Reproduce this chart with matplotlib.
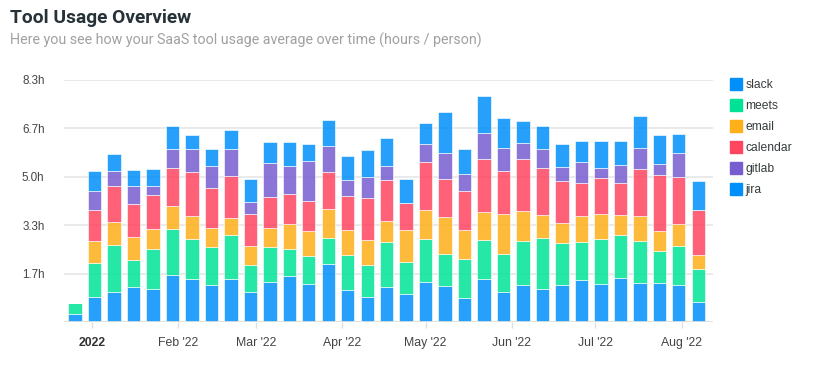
import matplotlib
matplotlib.use('Agg')
import matplotlib.pyplot as plt
import matplotlib.dates as mdates
from matplotlib.lines import Line2D
from datetime import date, timedelta

plt.rcParams['font.family'] = ['Liberation Sans', 'DejaVu Sans']

# Weekly buckets (Sundays), hours / person
weeks = [date(2021, 12, 26) + timedelta(days=7 * i) for i in range(33)]

slack = [0.26, 0.87, 1.02, 1.20, 1.13, 1.61, 1.47, 1.27, 1.47, 1.03, 1.37, 1.57, 1.32, 1.99,
         1.10, 0.86, 1.20, 0.96, 1.37, 1.24, 0.82, 1.48, 1.02, 1.26, 1.12, 1.26, 1.43, 1.29,
         1.51, 1.33, 1.34, 1.26, 0.70]
meets = [0.38, 1.16, 1.63, 0.93, 1.39, 1.59, 1.36, 1.31, 1.50, 0.93, 1.20, 0.93, 0.95, 0.90,
         1.20, 1.10, 1.55, 1.11, 1.48, 1.10, 1.33, 1.33, 1.31, 1.51, 1.75, 1.44, 1.32, 1.56,
         1.47, 1.45, 1.09, 1.35, 1.13]
email = [0, 0.76, 0.77, 0.77, 0.66, 0.79, 0.80, 0.64, 0.60, 0.66, 0.64, 0.86, 0.86, 1.00,
         0.86, 0.85, 0.70, 1.10, 0.98, 1.26, 1.02, 0.96, 1.36, 1.03, 0.79, 0.69, 0.89, 0.85,
         0.70, 0.85, 0.69, 0.76, 0.46]
calendar = [0, 1.05, 1.24, 1.14, 1.16, 1.28, 1.50, 1.37, 1.45, 1.10, 1.08, 1.03, 1.01, 1.27,
            1.17, 1.45, 1.43, 0.92, 1.65, 1.31, 1.32, 1.83, 1.48, 1.79, 1.63, 1.44, 1.13, 1.25,
            1.08, 1.61, 1.91, 1.60, 1.55]
gitlab = [0, 0.64, 0.52, 0.64, 0.34, 0.68, 0.82, 0.77, 0.90, 0.41, 1.18, 0.97, 1.37, 0.89,
          0.53, 0.71, 0.48, 0, 0.62, 0.88, 0.57, 0.87, 0.79, 0.54, 0.63, 0.50, 0.73, 0.32,
          0.62, 0.74, 0.38, 0.81, 0]
jira = [0, 0.69, 0.57, 0.53, 0.57, 0.77, 0.48, 0.57, 0.65, 0.77, 0.72, 0.80, 0.61, 0.89,
        0.82, 0.92, 0.95, 0.80, 0.72, 1.41, 0.86, 1.29, 1.03, 0.78, 0.80, 0.79, 0.70, 0.94,
        0.82, 1.09, 1.02, 0.68, 0.98]

series = [('slack', slack, '#008FFB'), ('meets', meets, '#00E396'), ('email', email, '#FEB019'),
          ('calendar', calendar, '#FF4560'), ('gitlab', gitlab, '#775DD0'), ('jira', jira, '#008FFB')]

y_ticks = [0, 1.66, 3.32, 4.98, 6.64, 8.3]
y_labels = ['', '1.7h', '3.3h', '5.0h', '6.7h', '8.3h']
x_ticks = [date(2022, m, 1) for m in range(1, 9)]
x_labels = ['2022', "Feb '22", "Mar '22", "Apr '22", "May '22", "Jun '22", "Jul '22", "Aug '22"]

W, H = 818, 367
fig = plt.figure(figsize=(W / 100, H / 100), dpi=100)
ax = fig.add_axes([64 / W, (H - 322) / H, (713 - 64) / W, (322 - 80) / H])

x = mdates.date2num(weeks)
bottom = [0.0] * len(x)
for name, vals, col in series:
    ax.bar(x, vals, width=4.8, bottom=bottom, color=col, alpha=0.85,
           edgecolor='white', linewidth=0.5, zorder=3)
    bottom = [b + v for b, v in zip(bottom, vals)]

ax.set_xlim(x[0] - 4.0, x[-1] + 5.3)
ax.set_ylim(0, 8.3)
ax.set_yticks(y_ticks)
ax.set_yticklabels(y_labels)
ax.set_xticks(mdates.date2num(x_ticks))
ax.set_xticklabels(x_labels)
for sp in ax.spines.values():
    sp.set_visible(False)
ax.grid(axis='y', color='#e6e6e6', linewidth=1.2, zorder=0)
ax.axhline(0, color='#e0e0e0', linewidth=2, zorder=4)
ax.tick_params(axis='y', length=0, pad=14, labelsize=8.4, labelcolor='#444444')
ax.tick_params(axis='x', length=4, width=1, color='#e0e0e0', pad=7, labelsize=8.8, labelcolor='#444444')
ax.get_xticklabels()[0].set_fontweight('bold')
ax.get_xticklabels()[0].set_color('#333333')

handles = [Line2D([], [], marker='s', linestyle='none', markersize=8.5, color=c) for _, _, c in series]
fig.legend(handles, [n for n, _, _ in series], loc='upper left', bbox_to_anchor=(726 / W, 1 - 74 / H),
           frameon=False, fontsize=8.7, labelcolor='#373d3f', handlelength=0.9, handletextpad=0.3,
           labelspacing=0.75, borderaxespad=0)

fig.text(10 / W, 1 - 18 / H, 'Tool Usage Overview', fontsize=13.8, fontweight='bold',
         family=['Roboto', 'DejaVu Sans'], color='#263238', va='center', ha='left')
fig.text(10 / W, 1 - 40 / H, 'Here you see how your SaaS tool usage average over time (hours / person)',
         fontsize=10.3, family=['Roboto', 'DejaVu Sans'], color='#a0a0a0', va='center', ha='left')

fig.savefig('out.png', dpi=100)
